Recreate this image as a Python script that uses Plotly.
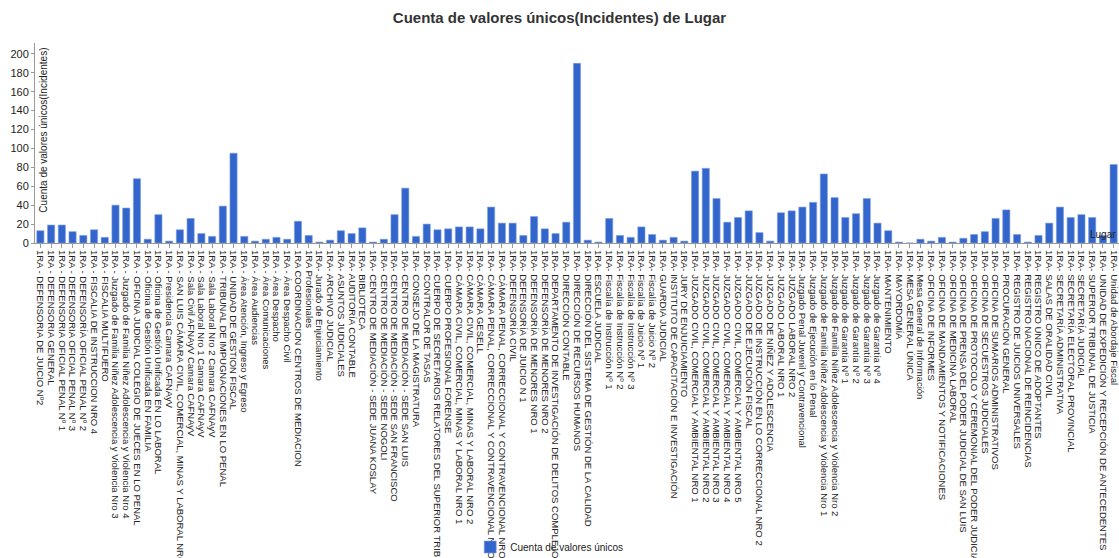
import plotly.graph_objects as go

categorias = [
    "1RA - DEFENSORIA DE JUICIO Nº2",
    "1RA - DEFENSORIA GENERAL",
    "1RA - DEFENSORIA OFICIAL PENAL Nº 1",
    "1RA - DEFENSORIA OFICIAL PENAL Nº 3",
    "1RA - DEFENSORÍA OFICIAL PENAL Nº 2",
    "1RA - FISCALIA DE INSTRUCCION NRO 4",
    "1RA - FISCALIA MULTIFUERO",
    "1RA - Juzgado de Familia Niñez Adolescencia y Violencia Nro 3",
    "1RA - Juzgado de Familia Niñez Adolescencia y Violencia Nro 4",
    "1RA - OFICINA JUDICIAL COLEGIO DE JUECES EN LO PENAL",
    "1RA - Oficina de Gestión Unificada EN FAMILIA",
    "1RA - Oficina de Gestión Unificada EN LO LABORAL",
    "1RA - Presidencia Camara CAFNAyV",
    "1RA - SAN LUIS CÁMARA CIVIL, COMERCIAL, MINAS Y LABORAL NRO 1",
    "1RA - Sala Civil AFNAyV Camara CAFNAyV",
    "1RA - Sala Laboral Nro 1 Camara CAFNAyV",
    "1RA - Sala Laboral Nro 2 Camara CAFNAyV",
    "1RA - TRIBUNAL DE IMPUGNACIONES EN LO PENAL",
    "1RA - UNIDAD DE GESTION FISCAL",
    "1RA - Área Atención, Ingreso y Egreso",
    "1RA - Área Audiencias",
    "1RA - Área Comunicaciones",
    "1RA - Área Despacho",
    "1RA - Área Despacho Civil",
    "1RA COORDINACION CENTROS DE MEDIACION",
    "1RA Profesionales",
    "1RA- Jurado de Enjuiciamiento",
    "1RA- ARCHIVO JUDICIAL",
    "1RA- ASUNTOS JUDICIALES",
    "1RA- AUDITORÍA CONTABLE",
    "1RA- BIBLIOTECA",
    "1RA- CENTRO DE MEDIACIÓN - SEDE JUANA KOSLAY",
    "1RA- CENTRO DE MEDIACIÓN - SEDE NOGOLI",
    "1RA- CENTRO DE MEDIACIÓN - SEDE SAN FRANCISCO",
    "1RA- CENTRO DE MEDIACIÓN - SEDE SAN LUIS",
    "1RA- CONSEJO DE LA MAGISTRATURA",
    "1RA- CONTRALOR DE TASAS",
    "1RA- CUERPO DE SECRETARIOS RELATORES DEL SUPERIOR TRIBUNAL",
    "1RA- CUERPO PROFESIONAL FORENSE",
    "1RA- CÁMARA CIVIL, COMERCIAL, MINAS Y LABORAL NRO 1",
    "1RA- CÁMARA CIVIL, COMERCIAL, MINAS Y LABORAL NRO 2",
    "1RA- CÁMARA GESELL",
    "1RA- CÁMARA PENAL, CORRECCIONAL Y CONTRAVENCIONAL NRO 1",
    "1RA- CÁMARA PENAL, CORRECCIONAL Y CONTRAVENCIONAL NRO 2",
    "1RA- DEFENSORÍA CIVIL",
    "1RA- DEFENSORÍA DE JUICIO N 1",
    "1RA- DEFENSORÍA DE MENORES NRO 1",
    "1RA- DEFENSORÍA DE MENORES NRO 2",
    "1RA- DEPARTAMENTO DE INVESTIGACIÓN DE DELITOS COMPLEJOS",
    "1RA- DIRECCIÓN CONTABLE",
    "1RA- DIRECCIÓN DE RECURSOS HUMANOS",
    "1RA- DIRECCIÓN DEL SISTEMA DE GESTIÓN DE LA CALIDAD",
    "1RA- ESCUELA JUDICIAL",
    "1RA- Fiscalía de Instrucción Nº 1",
    "1RA- Fiscalía de Instrucción Nº 2",
    "1RA- Fiscalía de Instrucción Nº 3",
    "1RA- Fiscalía de Juicio Nº 1",
    "1RA- Fiscalía de Juicio Nº 2",
    "1RA- GUARDIA JUDICIAL",
    "1RA- INSTITUTO DE CAPACITACIÓN E INVESTIGACIÓN",
    "1RA- JURY DE ENJUICIAMIENTO",
    "1RA- JUZGADO CIVIL, COMERCIAL Y AMBIENTAL NRO 1",
    "1RA- JUZGADO CIVIL, COMERCIAL Y AMBIENTAL NRO 2",
    "1RA- JUZGADO CIVIL, COMERCIAL Y AMBIENTAL NRO 3",
    "1RA- JUZGADO CIVIL, COMERCIAL Y AMBIENTAL NRO 4",
    "1RA- JUZGADO CIVIL, COMERCIAL Y AMBIENTAL NRO 5",
    "1RA- JUZGADO DE EJECUCIÓN FISCAL",
    "1RA- JUZGADO DE INSTRUCCIÓN EN LO CORRECCIONAL NRO 2",
    "1RA- JUZGADO DE NIÑEZ Y ADOLESCENCIA",
    "1RA- JUZGADO LABORAL NRO 1",
    "1RA- JUZGADO LABORAL NRO 2",
    "1RA- Juzgado Penal Juvenil y Contravencional",
    "1RA- Juzgado de Ejecución en lo Penal",
    "1RA- Juzgado de Familia Niñez Adolescencia y Violencia Nro 1",
    "1RA- Juzgado de Familia Niñez Adolescencia y Violencia Nro 2",
    "1RA- Juzgado de Garantía Nº 1",
    "1RA- Juzgado de Garantía Nº 2",
    "1RA- Juzgado de Garantía Nº 3",
    "1RA- Juzgado de Garantía Nº 4",
    "1RA- MANTENIMIENTO",
    "1RA- MAYORDOMÍA",
    "1RA- MESA GENERAL ÚNICA",
    "1RA- Mesa General de Información",
    "1RA- OFICINA DE INFORMES",
    "1RA- OFICINA DE MANDAMIENTOS Y NOTIFICACIONES",
    "1RA- OFICINA DE MEDICINA LABORAL",
    "1RA- OFICINA DE PRENSA DEL PODER JUDICIAL DE SAN LUIS",
    "1RA- OFICINA DE PROTOCOLO Y CEREMONIAL DEL PODER JUDICIAL",
    "1RA- OFICINA DE SECUESTROS JUDICIALES",
    "1RA- OFICINA DE SUMARIOS ADMINISTRATIVOS",
    "1RA- PROCURACIÓN GENERAL",
    "1RA- REGISTRO DE JUICIOS UNIVERSALES",
    "1RA- REGISTRO NACIONAL DE REINCIDENCIAS",
    "1RA- REGISTRO ÚNICO DE ADOPTANTES",
    "1RA- SALAS DE ORALIDAD CIVIL",
    "1RA- SECRETARÍA ADMINISTRATIVA",
    "1RA- SECRETARÍA ELECTORAL PROVINCIAL",
    "1RA- SECRETARÍA JUDICIAL",
    "1RA- SUPERIOR TRIBUNAL DE JUSTICIA",
    "1RA- UNIDAD DE EXPEDICIÓN Y RECEPCIÓN DE ANTECEDENTES",
    "1RA- Unidad de Abordaje Fiscal",
]

valores = [
    13, 19, 19, 12, 8, 14, 6, 40, 37, 68,
    4, 30, 2, 14, 26, 10, 7, 39, 95, 7,
    2, 4, 6, 4, 23, 8, 1, 3, 13, 10,
    16, 1, 4, 30, 58, 7, 20, 14, 15, 17,
    17, 15, 38, 21, 21, 8, 28, 15, 10, 22,
    190, 3, 1, 26, 8, 6, 17, 9, 3, 6,
    2, 76, 79, 47, 22, 27, 34, 11, 2, 32,
    34, 38, 43, 73, 48, 27, 31, 47, 21, 13,
    1, 0, 4, 2, 6, 1, 5, 9, 12, 26,
    35, 9, 1, 8, 21, 38, 27, 30, 27, 8,
    83,
]

serie = "Cuenta de valores únicos"
titulo = "Cuenta de valores únicos(Incidentes) de Lugar"
titulo_y = "Cuenta de valores únicos(Incidentes)"
titulo_x = "Lugar"

fig = go.Figure()
fig.add_trace(go.Bar(
    x=categorias, y=valores, name=serie,
    marker=dict(color="#3366cc", line=dict(color="#7f9fe0", width=0.6)),
    showlegend=True,
))

fig.update_layout(
    width=1119, height=558,
    paper_bgcolor="white", plot_bgcolor="white",
    font=dict(family="Liberation Sans, Arial, sans-serif", color="#222222"),
    margin=dict(l=35, r=0, t=43, b=315, autoexpand=False),
    bargap=0.33,
    title=dict(text="<b>" + titulo + "</b>", x=0.5, xanchor="center",
               y=1 - 18 / 558, yanchor="middle", yref="container",
               font=dict(size=15, color="#333333")),
    showlegend=True,
    legend=dict(orientation="h", x=0.4015, xanchor="left",
                y=1 - 547 / 558, yanchor="middle", yref="container",
                bgcolor="rgba(0,0,0,0)", font=dict(size=10, color="#222222"),
                itemwidth=30),
)

fig.update_xaxes(
    type="category", tickangle=90, automargin=False,
    tickmode="linear", dtick=1,
    tickfont=dict(size=9.5, color="#222222"),
    showline=True, linecolor="#999999", linewidth=1,
    ticks="outside", ticklen=4, tickcolor="#999999",
    showgrid=False,
)
fig.update_yaxes(
    range=[0, 211.5], dtick=20, automargin=False,
    tickfont=dict(size=11, color="#222222"),
    showline=True, linecolor="#999999", linewidth=1,
    ticks="outside", ticklen=3, tickcolor="#999999",
    showgrid=False, zeroline=False,
)

fig.add_annotation(
    text=titulo_y, xref="paper", yref="paper", x=0.0075, y=0.985,
    xanchor="center", yanchor="top", textangle=-90, showarrow=False,
    font=dict(size=10, color="#222222"),
)
fig.add_annotation(
    text=titulo_x, xref="paper", yref="paper", x=1.0, y=0.0,
    xanchor="right", yanchor="bottom", showarrow=False, yshift=1, xshift=-1,
    font=dict(size=10, color="#222222"),
)

fig.write_html(
    "out.html",
    config={"displayModeBar": False},
    post_script="document.body.style.margin='0';document.body.style.overflow='hidden';",
)
